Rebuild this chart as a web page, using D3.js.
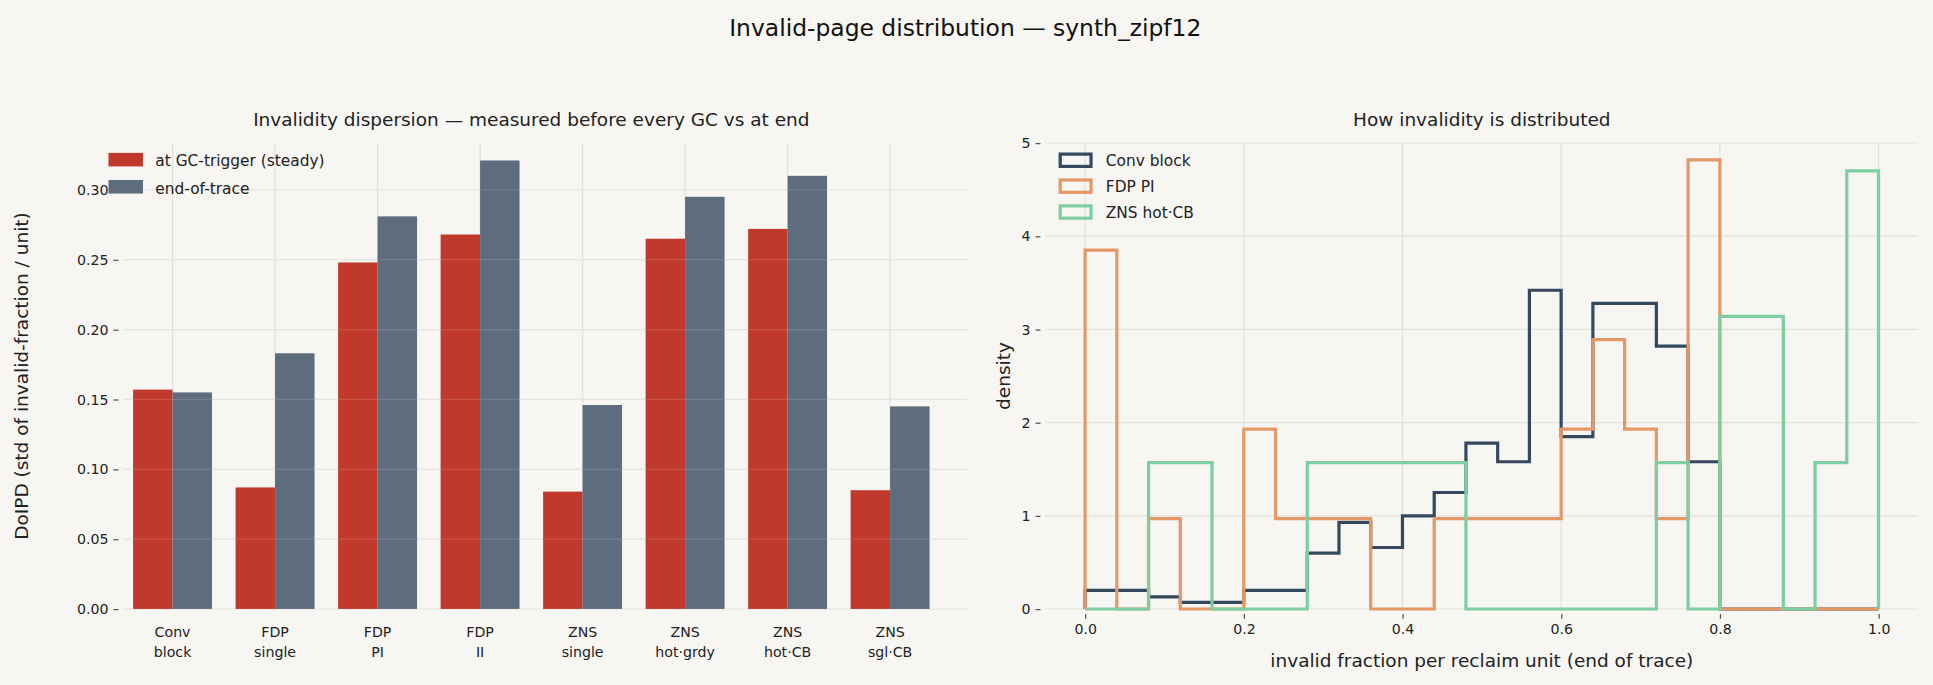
<!DOCTYPE html>
<html><head><meta charset="utf-8">
<script src="https://cdn.jsdelivr.net/npm/d3@7"></script>
<style>body{margin:0;background:#f7f6f2;}svg{font-family:"DejaVu Sans",sans-serif;}</style>
</head><body><svg id="c" width="1933" height="685"></svg>
<script>
const categories=["Conv\nblock","FDP\nsingle","FDP\nPI","FDP\nII","ZNS\nsingle","ZNS\nhot·grdy","ZNS\nhot·CB","ZNS\nsgl·CB"];
const steadyVals=[0.157,0.087,0.248,0.268,0.084,0.265,0.272,0.085];
const endVals=[0.155,0.183,0.281,0.321,0.146,0.295,0.310,0.145];
const barTicks=[0,0.05,0.10,0.15,0.20,0.25,0.30];
const binEdges=[0,0.04,0.08,0.12,0.16,0.20,0.24,0.28,0.32,0.36,0.40,0.44,0.48,0.52,0.56,0.60,0.64,0.68,0.72,0.76,0.80,0.84,0.88,0.92,0.96,1.0];
const convDens=[0.2,0.2,0.13,0.07,0.07,0.2,0.2,0.6,0.93,0.66,1.0,1.25,1.78,1.58,3.42,1.85,3.28,3.28,2.82,1.58,0,0,0,0,0];
const fdpDens=[3.85,0,0.97,0,0,1.93,0.97,0.97,0.97,0,0,0.97,0.97,0.97,0.97,1.93,2.89,1.93,0.97,4.82,0,0,0,0,0];
const znsDens=[0,0,1.57,1.57,0,0,0,1.57,1.57,1.57,1.57,1.57,0,0,0,0,0,0,1.57,0,3.14,3.14,0,1.57,4.7];
const histTicksX=[0,0.2,0.4,0.6,0.8,1.0];
const histTicksY=[0,1,2,3,4,5];

const root=d3.select("#c");
root.append("rect").attr("width",1933).attr("height",685).attr("fill","#f7f6f2");
const svg=root.append("g").attr("transform",`scale(${1933/1568})`);
svg.append("text").attr("x",783).attr("y",29).attr("text-anchor","middle").attr("font-size",19).attr("fill","#111").text("Invalid-page distribution — synth_zipf12");
const grid="#e3e1dc",tickC="#555";
// left
const L={l:100,r:785,t:116,b:494};
const x=d3.scaleBand().domain(categories).range([98.4,763.6]).paddingInner(0.23).paddingOuter(0.115);
const y=d3.scaleLinear().domain([0,0.3335]).range([L.b,L.t]);
const g=svg.append("g");
g.selectAll(".hg").data(barTicks).join("line").attr("x1",L.l).attr("x2",L.r).attr("y1",d=>y(d)).attr("y2",d=>y(d)).attr("stroke",grid);
g.selectAll(".vg").data(categories).join("line").attr("x1",d=>x(d)+x.bandwidth()/2).attr("x2",d=>x(d)+x.bandwidth()/2).attr("y1",L.t).attr("y2",L.b).attr("stroke",grid);
const bw=x.bandwidth()/2;
g.selectAll(".r").data(steadyVals).join("rect").attr("x",(d,i)=>x(categories[i])).attr("width",bw).attr("y",d=>y(d)).attr("height",d=>L.b-y(d)).attr("fill","#c0392b");
g.selectAll(".s").data(endVals).join("rect").attr("x",(d,i)=>x(categories[i])+bw).attr("width",bw).attr("y",d=>y(d)).attr("height",d=>L.b-y(d)).attr("fill","#5d6d7e");
g.selectAll(".hg2").data(barTicks).join("line").attr("x1",L.l).attr("x2",L.r).attr("y1",d=>y(d)).attr("y2",d=>y(d)).attr("stroke","#fff").attr("stroke-opacity",0.12);
const ya=d3.axisLeft(y).tickValues(barTicks).tickFormat(d3.format(".2f")).tickSize(4).tickPadding(4);
svg.append("g").attr("transform",`translate(${L.l-4},0)`).call(ya);
const xa=d3.axisBottom(x).tickSize(0).tickPadding(10).tickFormat("");
const xag=svg.append("g").attr("transform",`translate(0,${L.b})`).call(xa);
xag.selectAll(".tick").each(function(d){const t=d3.select(this).append("text").attr("fill","#222").attr("font-size",12).attr("text-anchor","middle");d.split("\n").forEach((s,i)=>t.append("tspan").attr("x",0).attr("y",23+i*16).text(s));});
svg.append("text").attr("transform","translate(23,305) rotate(-90)").attr("text-anchor","middle").attr("font-size",15).attr("fill","#222").text("DoIPD  (std of invalid-fraction / unit)");
svg.append("text").attr("x",431).attr("y",102).attr("text-anchor","middle").attr("font-size",15).attr("fill","#222").text("Invalidity dispersion — measured before every GC vs at end");
const lg=svg.append("g");
[["at GC-trigger (steady)","#c0392b"],["end-of-trace","#5d6d7e"]].forEach((d,i)=>{lg.append("rect").attr("x",88).attr("y",124+i*22).attr("width",28).attr("height",11).attr("fill",d[1]);lg.append("text").attr("x",126).attr("y",135+i*22).attr("font-size",12.5).attr("fill","#222").text(d[0]);});
// right
const R={l:848,r:1556,t:116,b:494};
const hx=d3.scaleLinear().domain([-0.05,1.05]).range([R.l,R.r]);
const hy=d3.scaleLinear().domain([0,5]).range([R.b,R.t]);
const h=svg.append("g");
h.selectAll(".hg").data(histTicksY).join("line").attr("x1",R.l).attr("x2",R.r).attr("y1",d=>hy(d)).attr("y2",d=>hy(d)).attr("stroke",grid);
h.selectAll(".vg").data(histTicksX).join("line").attr("x1",d=>hx(d)).attr("x2",d=>hx(d)).attr("y1",R.t).attr("y2",R.b).attr("stroke",grid);
function stepPath(dens){const p=d3.path();p.moveTo(hx(binEdges[0]),hy(0));dens.forEach((v,i)=>{p.lineTo(hx(binEdges[i]),hy(v));p.lineTo(hx(binEdges[i+1]),hy(v));});p.lineTo(hx(binEdges[binEdges.length-1]),hy(0));return p.toString();}
const series=[["Conv block",convDens,"#34495e"],["FDP PI",fdpDens,"#e59866"],["ZNS hot·CB",znsDens,"#7dcea0"]];
series.forEach(s=>h.append("path").attr("d",stepPath(s[1])).attr("fill","none").attr("stroke",s[2]).attr("stroke-width",2.6).attr("stroke-linejoin","miter"));
svg.append("g").attr("transform",`translate(${R.l-4},0)`).call(d3.axisLeft(hy).tickValues(histTicksY).tickFormat(d3.format("d")).tickSize(4).tickPadding(4));
svg.append("g").attr("transform",`translate(0,${R.b+4})`).call(d3.axisBottom(hx).tickValues(histTicksX).tickFormat(d3.format(".1f")).tickSize(4).tickPadding(4));
svg.append("text").attr("transform","translate(819,305) rotate(-90)").attr("text-anchor","middle").attr("font-size",15).attr("fill","#222").text("density");
svg.append("text").attr("x",1202).attr("y",541).attr("text-anchor","middle").attr("font-size",15).attr("fill","#222").text("invalid fraction per reclaim unit (end of trace)");
svg.append("text").attr("x",1202).attr("y",102).attr("text-anchor","middle").attr("font-size",15).attr("fill","#222").text("How invalidity is distributed");
series.forEach((s,i)=>{svg.append("rect").attr("x",860).attr("y",125+i*21).attr("width",25).attr("height",10).attr("fill","none").attr("stroke",s[2]).attr("stroke-width",2.6);svg.append("text").attr("x",897).attr("y",135+i*21).attr("font-size",12.5).attr("fill","#222").text(s[0]);});
svg.selectAll(".domain").remove();
svg.selectAll(".tick line").attr("stroke",tickC);
svg.selectAll(".tick text").attr("font-size",11.5).attr("fill","#222").attr("font-family","DejaVu Sans");
</script></body></html>
